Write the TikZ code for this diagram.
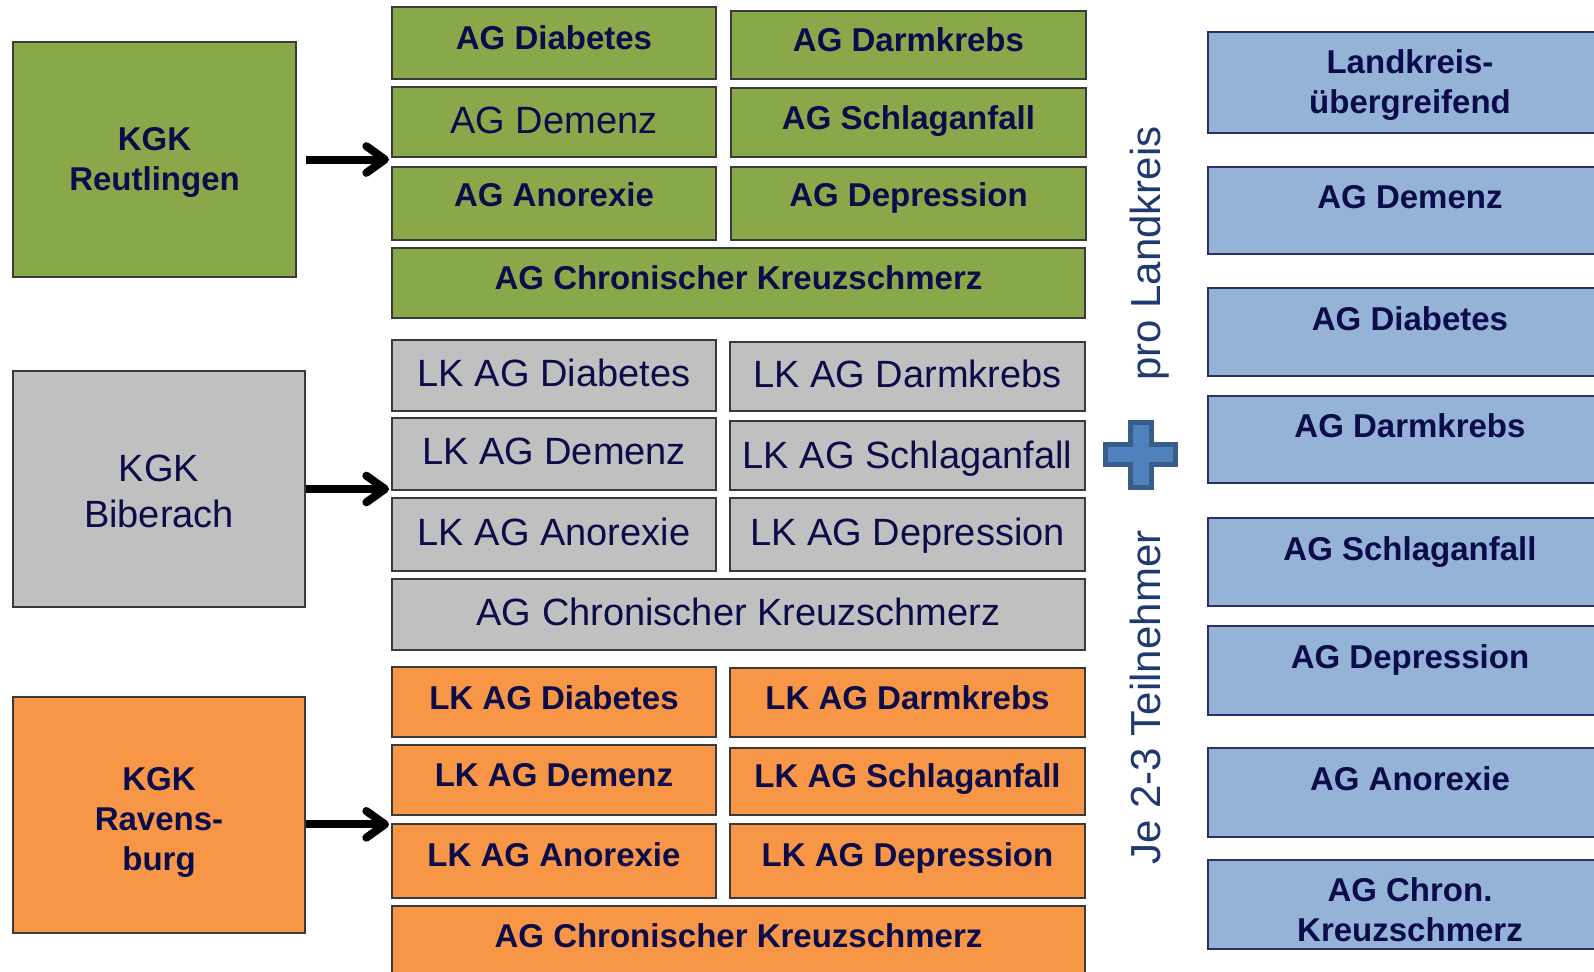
\documentclass[tikz,border=0pt]{standalone}
\usepackage{fontspec}
\setmainfont{Liberation Sans}
\usetikzlibrary{arrows.meta}

\definecolor{agGruen}{HTML}{89A84A}
\definecolor{agGrau}{HTML}{C0C0C0}
\definecolor{agOrange}{HTML}{F79646}
\definecolor{agBlau}{HTML}{95B3D7}
\definecolor{rahmen}{HTML}{3A3A3A}
\definecolor{blauRahmen}{HTML}{2E2E66}
\definecolor{schrift}{HTML}{0C0C4A}
\definecolor{seitenText}{HTML}{1F3A6E}
\definecolor{plusFill}{HTML}{4F81BD}
\definecolor{plusRand}{HTML}{385D8A}

\newcommand{\agFett}{\fontsize{24.75pt}{30pt}\selectfont\bfseries}
\newcommand{\agNorm}{\fontsize{28.5pt}{34.5pt}\selectfont}
\newcommand{\agSeite}{\fontsize{31.5pt}{37.8pt}\selectfont}

\tikzset{
  feld/.style={draw=rahmen, line width=1.5pt, inner sep=0pt, text=schrift},
  groesse/.style 2 args={minimum width=#1*0.75pt, minimum height=#2*0.75pt},
  fett/.style={font=\agFett, text height=17.7pt, text depth=#1},
  duenn/.style={font=\agNorm, text height=20.4pt, text depth=#1},
  mehr/.style={align=center, text depth=0pt, text height=#1},
  gruen/.style={feld, fill=agGruen, fett=7.5pt},
  grau/.style={feld, fill=agGrau, duenn=4.5pt},
  orng/.style={feld, fill=agOrange, fett=8pt},
  blaufeld/.style={feld, draw=blauRahmen, fill=agBlau, font=\agFett},
  blau/.style={blaufeld, fett=20pt},
  kgk/.style={feld, groesse={292}{236}},
  pfeil/.style={line width=6pt, -{Straight Barb[round,length=14pt,width=20pt]}, shorten >=1.5pt},
  seite/.style={font=\agSeite, text=seitenText, rotate=90, anchor=base}
}

\begin{document}
\begin{tikzpicture}[x=0.75pt,y=-0.75pt]
        \useasboundingbox (0,0) rectangle (1594,971);

        % KGK Reutlingen
        \node[kgk, fill=agGruen, font=\agFett, mehr=47pt, groesse={283}{235}] (reut) at (154.5,159.5) {KGK\\Reutlingen};
        \node[gruen, groesse={324}{72}] (gDia) at (554,43) {AG Diabetes};
        \node[gruen, groesse={355}{68}] (gDarm) at (908.5,45) {AG Darmkrebs};
        \node[gruen, duenn=3pt, groesse={324}{70}] (gDem) at (554,122) {AG Demenz};
        \node[gruen, groesse={355}{69}] (gSchl) at (908.5,122.5) {AG Schlaganfall};
        \node[gruen, fett=13.5pt, groesse={324}{73}] (gAno) at (554,203.5) {AG Anorexie};
        \node[gruen, fett=13.5pt, groesse={355}{73}] (gDep) at (908.5,203.5) {AG Depression};
        \node[gruen, groesse={693}{70}] (gChr) at (738.5,283) {AG Chronischer Kreuzschmerz};

        % KGK Biberach
        \node[kgk, fill=agGrau, font=\agNorm, mehr=58pt] (bib) at (159,489) {KGK\\Biberach};
        \node[grau, groesse={324}{71}] (lDia) at (554,375.5) {LK AG Diabetes};
        \node[grau, groesse={355}{69}] (lDarm) at (907.5,376.5) {LK AG Darmkrebs};
        \node[grau, groesse={324}{72}] (lDem) at (554,454) {LK AG Demenz};
        \node[grau, duenn=1pt, groesse={355}{69}] (lSchl) at (907.5,455.5) {LK AG Schlaganfall};
        \node[grau, groesse={324}{73}] (lAno) at (554,534.5) {LK AG Anorexie};
        \node[grau, groesse={355}{73}] (lDep) at (907.5,534.5) {LK AG Depression};
        \node[grau, groesse={693}{71}] (lChr) at (738.5,614.5) {AG Chronischer Kreuzschmerz};

        % KGK Ravensburg
        \node[kgk, fill=agOrange, font=\agFett, mehr=83.7pt] (rav) at (159,815) {KGK\\Ravens-\\burg};
        \node[orng, fett=6.75pt, groesse={324}{70}] (oDia) at (554,702) {LK AG Diabetes};
        \node[orng, fett=6.75pt, groesse={355}{69}] (oDarm) at (907.5,702.5) {LK AG Darmkrebs};
        \node[orng, groesse={324}{70}] (oDem) at (554,780) {LK AG Demenz};
        \node[orng, groesse={355}{67}] (oSchl) at (907.5,781.5) {LK AG Schlaganfall};
        \node[orng, fett=9.75pt, groesse={324}{74}] (oAno) at (554,861) {LK AG Anorexie};
        \node[orng, fett=9.75pt, groesse={355}{74}] (oDep) at (907.5,861) {LK AG Depression};
        \node[orng, groesse={693}{70}] (oChr) at (738.5,941) {AG Chronischer Kreuzschmerz};

        % Pfeile
        \draw[pfeil] ([xshift=6.75pt]reut.east) -- (reut.east -| gDem.west);
        \draw[pfeil] (bib.east) -- (bib.east -| lDem.west);
        \draw[pfeil] ([yshift=-7pt]rav.east) -- ([yshift=-7pt]rav.east -| oAno.west);

        % Seitentext und Plus
        \node[seite] (proLk) at (1160,253.5) {pro Landkreis};
        \node[seite] (jeTn) at (1160,697.5) {Je 2-3 Teilnehmer};
        \filldraw[fill=plusFill, draw=plusRand, line width=3.75pt]
            (1130.5,422) -- (1151.5,422) -- (1151.5,444) -- (1175,444) -- (1175,464.5)
            -- (1151.5,464.5) -- (1151.5,487) -- (1130.5,487) -- (1130.5,464.5)
            -- (1105.5,464.5) -- (1105.5,444) -- (1130.5,444) -- cycle;

        % Landkreisuebergreifend
        \node[blaufeld, mehr=47pt, groesse={404}{101}] (bUeb) at (1410,82.5) {Landkreis-\\übergreifend};
        \node[blau, groesse={404}{87}] (bDem) at (1410,210.5) {AG Demenz};
        \node[blau, groesse={404}{88}] (bDia) at (1410,332) {AG Diabetes};
        \node[blau, groesse={404}{87}] (bDarm) at (1410,439.5) {AG Darmkrebs};
        \node[blau, groesse={404}{88}] (bSchl) at (1410,562) {AG Schlaganfall};
        \node[blau, groesse={404}{89}] (bDep) at (1410,670.5) {AG Depression};
        \node[blau, groesse={404}{89}] (bAno) at (1410,792.5) {AG Anorexie};
        \node[blaufeld, mehr=55.8pt, groesse={404}{89}] (bChr) at (1410,904.5) {AG Chron.\\Kreuzschmerz};
\end{tikzpicture}
\end{document}
